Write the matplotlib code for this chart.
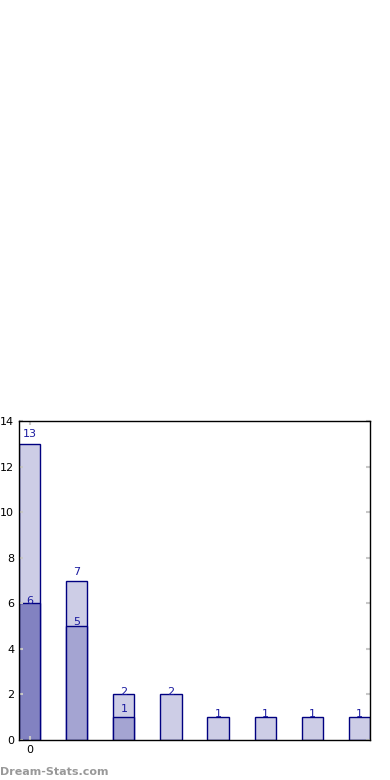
import matplotlib
matplotlib.use("Agg")
import matplotlib.pyplot as plt

# Overlapping bar layers (drawn from zero, back to front)
positions = [0, 1, 2, 3, 4, 5, 6, 7]
totals = [13, 7, 2, 2, 1, 1, 1, 1]
middle = [None, 5, 1, None, None, None, None, None]
bottom = [6, None, None, None, None, None, None, None]

# label offsets in points above each bar top (style only)
total_off = [7, 6, 2, 2, 2, 2, 2, 2]
middle_off = [0, 3, 6, 0, 0, 0, 0, 0]
bottom_off = [2, 0, 0, 0, 0, 0, 0, 0]

fig = plt.figure(figsize=(3.9, 7.8), dpi=100)
ax = fig.add_axes([19 / 390, 40 / 780, 351 / 390, 319 / 780])

w = 0.45
edge = "#000080"
txt = "#1a1aa0"


def label(x, v, off):
    ax.annotate(str(v), (x, v), xytext=(0, off), textcoords="offset points",
                ha="center", va="center", fontsize=8, color=txt)


ax.bar(positions, totals, width=w, color="#cdcde6", edgecolor=edge, linewidth=1)
for x, v, o in zip(positions, totals, total_off):
    label(x, v, o)

for x, v, o in zip(positions, middle, middle_off):
    if v is not None:
        ax.bar(x, v, width=w, color="#a4a4d2", edgecolor=edge, linewidth=1)
        label(x, v, o)

for x, v, o in zip(positions, bottom, bottom_off):
    if v is not None:
        ax.bar(x, v, width=w, color="#8282c1", edgecolor=edge, linewidth=1)
        label(x, v, o)

ax.set_xlim(-w / 2, 7 + w / 2)
ax.set_ylim(0, 14)
ax.set_yticks([0, 2, 4, 6, 8, 10, 12, 14])
ax.set_xticks([0])
ax.tick_params(direction="in", length=3, width=1.5, color="#c8c8c8",
               labelsize=8, right=True, top=True)
for s in ax.spines.values():
    s.set_linewidth(1)

fig.text(0.0, 0.004, "Dream-Stats.com", fontsize=8, color="#999999",
         fontweight="bold", ha="left", va="bottom")

fig.savefig("out.png", dpi=100)
